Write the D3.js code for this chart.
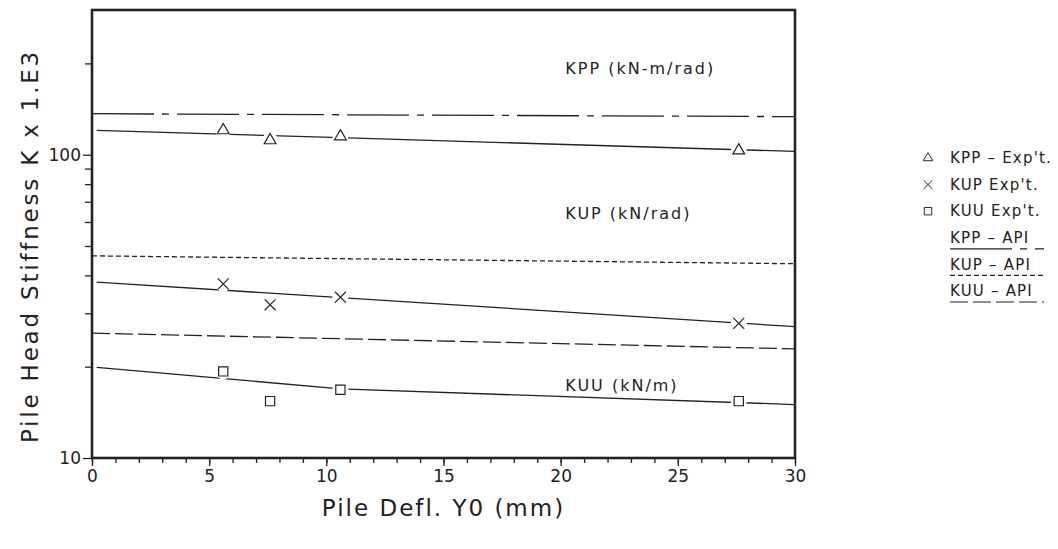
<!DOCTYPE html>
<html>
<head>
<meta charset="utf-8">
<script src="https://cdn.jsdelivr.net/npm/d3@7"></script>
<style>
  body { margin: 0; background: #fff; }
  text { font-family: "DejaVu Sans", sans-serif; fill: #222; }
</style>
</head>
<body>
<svg id="chart" width="1058" height="549"></svg>
<script>
// experimental points (pile deflection in mm, stiffness x 1E3)
const defl   = [5.6, 7.6, 10.6, 27.6]
const kppExp = [120.3, 111.5, 114.9, 103.3]
const kupExp = [37.5, 32.0, 33.9, 27.8]
const kuuExp = [19.3, 15.4, 16.8, 15.4]

// fitted curves through the experiments
const fitDefl = [0.2, 10.6, 30]
const kppFit  = [120.3, 113.8, 102.5]
const kupFit  = [38.0, 33.8, 27.1]
const kuuFit  = [19.9, 16.9, 15.0]

// API predictions
const apiDefl = [0, 30]
const kppApi  = [136.5, 133.5]
const kupApi  = [46.4, 43.7]
const kuuApi  = [25.8, 22.9]

const xMajor = [0, 5, 10, 15, 20, 25, 30]
const xMinor = d3.range(0, 31, 1)
const yMajor = [10, 100]
const yMinor = [20, 30, 40, 50, 60, 70, 80, 90, 200]

const legendLabels = ["KPP \u2013 Exp't.", "KUP Exp't.", "KUU Exp't.", "KPP \u2013 API", "KUP \u2013 API", "KUU \u2013 API"]

const ink = "#222"
const dashKpp = "62,8,7,8"
const dashKup = "5,3"
const dashKuu = "18,5"

const svg = d3.select("#chart")
const m = {left: 92, right: 795, top: 10, bottom: 458}

const x = d3.scaleLinear().domain([0, 30]).range([m.left, m.right])
const y = d3.scaleLog().domain([10, 300]).range([m.bottom, m.top])

// axes: ticks only on the left and bottom
svg.append("g")
    .attr("transform", `translate(0,${m.bottom})`)
    .call(d3.axisBottom(x).tickValues(xMinor).tickSize(5).tickFormat(""))
    .call(g => g.select(".domain").remove())
svg.append("g")
    .attr("transform", `translate(0,${m.bottom})`)
    .call(d3.axisBottom(x).tickValues(xMajor).tickSize(8).tickPadding(4).tickFormat(d3.format("d")))
    .call(g => g.select(".domain").remove())
    .call(g => g.selectAll("text").style("font-size", "17px"))

svg.append("g")
    .attr("transform", `translate(${m.left},0)`)
    .call(d3.axisLeft(y).tickValues(yMinor).tickSize(7).tickFormat(""))
    .call(g => g.select(".domain").remove())
svg.append("g")
    .attr("transform", `translate(${m.left},0)`)
    .call(d3.axisLeft(y).tickValues(yMajor).tickSize(9).tickPadding(2).tickFormat(d3.format("d")))
    .call(g => g.select(".domain").remove())
    .call(g => g.selectAll("text").style("font-size", "17px").attr("dy", "0.35em"))

svg.selectAll(".tick line").attr("stroke", ink).attr("stroke-width", 1.3)

// frame
svg.append("rect")
    .attr("x", m.left).attr("y", m.top)
    .attr("width", m.right - m.left).attr("height", m.bottom - m.top)
    .attr("fill", "none").attr("stroke", ink).attr("stroke-width", 2.6)

// axis titles
svg.append("text")
    .attr("transform", `translate(38,${(m.top + m.bottom) / 2 + 12}) rotate(-90)`)
    .attr("text-anchor", "middle")
    .style("font-size", "23px")
    .style("letter-spacing", "2.8px")
    .text("Pile Head Stiffness K x 1.E3")
svg.append("text")
    .attr("x", x(15)).attr("y", 516)
    .attr("text-anchor", "middle")
    .style("font-size", "23px")
    .style("letter-spacing", "2px")
    .text("Pile Defl. Y0 (mm)")

const line = d3.line().x(d => x(d[0])).y(d => y(d[1]))
const plot = svg.append("g")

function addLine(xs, ys, dash){
    plot.append("path")
        .datum(xs.map((d, i) => [d, ys[i]]))
        .attr("d", line)
        .attr("fill", "none")
        .attr("stroke", ink)
        .attr("stroke-width", 1.3)
        .attr("stroke-dasharray", dash)
}

addLine(apiDefl, kppApi, dashKpp)
addLine(apiDefl, kupApi, dashKup)
addLine(apiDefl, kuuApi, dashKuu)
addLine(fitDefl, kppFit, null)
addLine(fitDefl, kupFit, null)
addLine(fitDefl, kuuFit, null)

// markers, with a white halo so the fitted line is broken around them
const symTri = d3.symbol().type(d3.symbolTriangle).size(60)
const symX = d3.symbol().type(d3.symbolX).size(80)
const symSq = d3.symbol().type(d3.symbolSquare).size(85)

function addMarkers(ys, sym){
    let pts = defl.map((d, i) => [d, ys[i]])
    plot.selectAll(null).data(pts).enter().append("circle")
        .attr("cx", d => x(d[0])).attr("cy", d => y(d[1]))
        .attr("r", 8).attr("fill", "#fff")
    plot.selectAll(null).data(pts).enter().append("path")
        .attr("d", sym)
        .attr("transform", d => `translate(${x(d[0])},${y(d[1])})`)
        .attr("fill", "none").attr("stroke", ink).attr("stroke-width", 1.2)
}
addMarkers(kppExp, symTri)
addMarkers(kupExp, symX)
addMarkers(kuuExp, symSq)

// curve labels
const notes = [
    {t: "KPP (kN-m/rad)", v: 192},
    {t: "KUP (kN/rad)", v: 63.9},
    {t: "KUU (kN/m)", v: 17.4}
]
svg.selectAll(null).data(notes).enter().append("text")
    .attr("x", x(20.2)).attr("y", d => y(d.v))
    .attr("dy", "0.35em")
    .style("font-size", "16px")
    .style("letter-spacing", "2px")
    .text(d => d.t)

// legend
const lg = svg.append("g").attr("transform", "translate(928,158)")
const rowH = 26.6
const legSyms = [symTri, symX, symSq]
const legDash = [dashKpp, dashKup, dashKuu]
legendLabels.forEach((lab, i) => {
    let row = lg.append("g").attr("transform", `translate(0,${i * rowH})`)
    if (i < 3){
        row.append("path").attr("d", legSyms[i])
            .attr("transform", "scale(0.8)")
            .attr("fill", "none").attr("stroke", ink).attr("stroke-width", 1.2)
    } else {
        row.append("line")
            .attr("x1", 22).attr("x2", 116).attr("y1", 11).attr("y2", 11)
            .attr("stroke", ink).attr("stroke-width", 1.2)
            .attr("stroke-dasharray", legDash[i - 3])
    }
    row.append("text").attr("x", 22).attr("dy", "0.35em")
        .style("font-size", "15px")
        .style("letter-spacing", "1.2px")
        .text(lab)
})
</script>
</body>
</html>
